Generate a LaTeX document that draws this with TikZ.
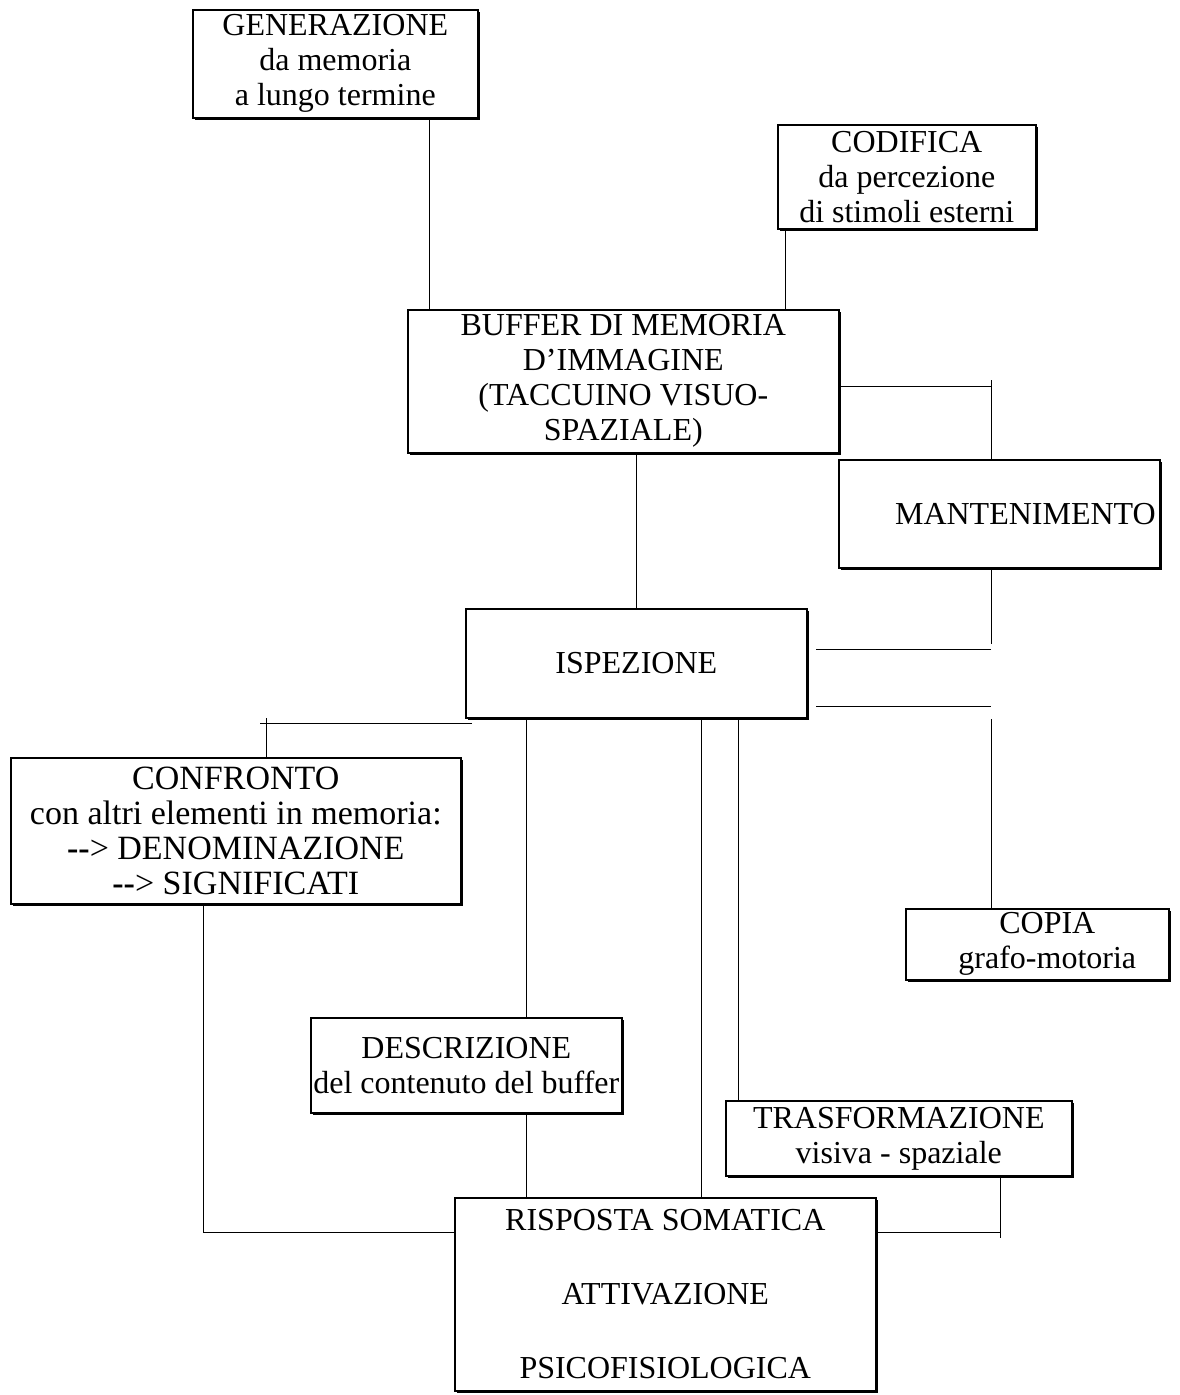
\documentclass[tikz,border=0pt]{standalone}
\usepackage{fontspec}
\setmainfont{Liberation Serif}
\usetikzlibrary{shadows}
\begin{document}
\begin{tikzpicture}[x=1pt,y=-1pt,
  box/.style={draw,line width=1.6pt,fill=white,anchor=north west,inner sep=0pt,
    align=center,font=\fontsize{32}{35}\selectfont,
    drop shadow={shadow xshift=2.5pt,shadow yshift=-2.5pt,fill=black,opacity=1}},
  conn/.style={line width=1pt}]
\useasboundingbox (0,0) rectangle (1180,1395);
\node[box,minimum width=285pt,minimum height=108pt] (gen) at (192,9) {GENERAZIONE\\da memoria\\a lungo termine};
\node[box,minimum width=258pt,minimum height=104pt] (cod) at (777,124) {CODIFICA\\da percezione\\di stimoli esterni};
\node[box,minimum width=431pt,minimum height=143pt] (buf) at (407,309) {BUFFER DI MEMORIA\\D'IMMAGINE\\(TACCUINO VISUO-\\SPAZIALE)};
\node[box,minimum width=321pt,minimum height=108pt,text width=313pt,align=right] (mant) at (838,459) {MANTENIMENTO};
\node[box,minimum width=341pt,minimum height=109pt] (isp) at (465,608) {ISPEZIONE};
\node[box,minimum width=450pt,minimum height=146pt,font=\fontsize{34}{35}\selectfont] (conf) at (10,757) {CONFRONTO\\con altri elementi in memoria:\\\textbf{-{}-}> DENOMINAZIONE\\\textbf{-{}-}> SIGNIFICATI};
\node[box,minimum width=263pt,minimum height=71pt,text width=263pt,align=center] (copia) at (905,908) {\hspace*{20pt}COPIA\\\hspace*{20pt}\mbox{grafo-motoria}};
\node[box,minimum width=311pt,minimum height=95pt] (desc) at (310,1017) {DESCRIZIONE\\del contenuto del buffer};
\node[box,minimum width=346pt,minimum height=75pt] (trasf) at (725,1100) {TRASFORMAZIONE\\visiva - spaziale};
\node[box,minimum width=421pt,minimum height=193pt] (risp) at (454,1197) {RISPOSTA SOMATICA\\[39pt]ATTIVAZIONE\\[39pt]PSICOFISIOLOGICA};

\coordinate (m1) at (816,649);
\coordinate (m2) at (991,649);
\coordinate (m3) at (816,706);
\coordinate (m4) at (991,706);
\coordinate (t1) at (991,380);
\coordinate (t2) at (991,644);
\coordinate (t3) at (991,719);
\coordinate (c1) at (472,723);
\coordinate (c2) at (260,723);
\coordinate (c3) at (266,718);
\coordinate (b1) at (203,1232);
\coordinate (b2) at (1000,1232);
\coordinate (b3) at (1000,1238);

\draw[conn] (429,0 |- gen.south) -- (429,0 |- buf.north);
\draw[conn] (785,0 |- cod.south) -- (785,0 |- buf.north);
\draw[conn] (buf.east |- 0,386) -- (991,386);
\draw[conn] (t1) -- (991,0 |- mant.north);
\draw[conn] (991,0 |- mant.south) -- (t2);
\draw[conn] (m1) -- (m2);
\draw[conn] (m3) -- (m4);
\draw[conn] (t3) -- (991,0 |- copia.north);
\draw[conn] (636,0 |- buf.south) -- (636,0 |- isp.north);
\draw[conn] (c1) -- (c2);
\draw[conn] (c3) -- (266,0 |- conf.north);
\draw[conn] (526,0 |- isp.south) -- (526,0 |- desc.north);
\draw[conn] (526,0 |- desc.south) -- (526,0 |- risp.north);
\draw[conn] (701,0 |- isp.south) -- (701,0 |- risp.north);
\draw[conn] (738,0 |- isp.south) -- (738,0 |- trasf.north);
\draw[conn] (203,0 |- conf.south) -- (b1) -- (risp.west |- b1);
\draw[conn] (1000,0 |- trasf.south) -- (b3);
\draw[conn] (b2) -- (risp.east |- b2);
\end{tikzpicture}
\end{document}
